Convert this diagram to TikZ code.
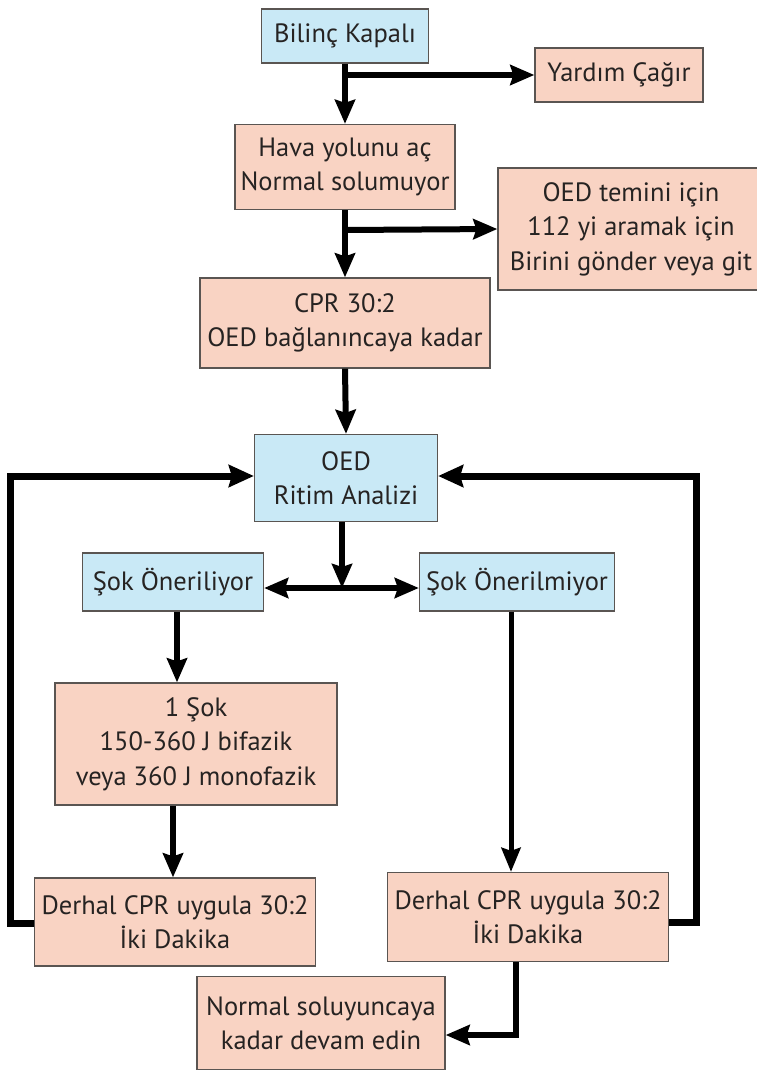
\documentclass[tikz,border=0pt]{standalone}
\usepackage{fontspec}
\setmainfont{PT Sans}
\usetikzlibrary{arrows.meta}
\definecolor{bluebox}{HTML}{C9E9F6}
\definecolor{pinkbox}{HTML}{F9D3C3}
\definecolor{edgegray}{HTML}{5A5552}
\definecolor{txt}{HTML}{262322}
\tikzset{
  box/.style={draw=edgegray, line width=1.3pt, align=center, inner sep=2pt,
    text=txt, font=\fontsize{26.5}{34.5}\selectfont},
  bbox/.style={box, fill=bluebox},
  pbox/.style={box, fill=pinkbox},
  conn/.style={line width=6pt, -{Stealth[length=24pt,width=20pt,inset=3pt]}},
  thinconn/.style={line width=5pt, -{Stealth[length=24pt,width=19pt,inset=3pt]}},
  loopconn/.style={line width=7pt, -{Stealth[length=25pt,width=22pt,inset=3pt]}},
  dblconn/.style={line width=6pt, {Stealth[length=24pt,width=20pt,inset=3pt]}-{Stealth[length=24pt,width=20pt,inset=3pt]}},
}
\begin{document}
\begin{tikzpicture}[x=1pt,y=-1pt]
\useasboundingbox[fill=white] (0,0) rectangle (757,1071);
% nodes
\node[bbox, minimum width=167pt, minimum height=54pt] (bil) at (345,36) {Bilinç Kapalı};
\node[pbox, minimum width=168pt, minimum height=54pt] (yar) at (619,75) {Yardım Çağır};
\node[pbox, minimum width=220pt, minimum height=85pt] (hava) at (345,167) {Hava yolunu aç\\Normal solumuyor};
\node[pbox, minimum width=266pt, minimum height=122pt] (oedt) at (631,229) {OED temini için\\112 yi aramak için\\Birini gönder veya git\hspace{8pt}};
\node[pbox, minimum width=290pt, minimum height=90pt] (cpr) at (345,323) {CPR 30:2\\OED bağlanıncaya kadar};
\node[bbox, minimum width=183pt, minimum height=87pt] (oed) at (346,478) {OED\\Ritim Analizi};
\node[bbox, minimum width=181pt, minimum height=58pt] (sy) at (173,582) {Şok Öneriliyor};
\node[bbox, minimum width=195pt, minimum height=58pt] (sn) at (517,582) {Şok Önerilmiyor};
\node[pbox, minimum width=282pt, minimum height=122pt] (sok) at (196,744) {1 Şok\\150-360 J bifazik\\veya 360 J monofazik};
\node[pbox, minimum width=281pt, minimum height=88pt] (d1) at (175,922) {Derhal CPR uygula 30:2\\İki Dakika};
\node[pbox, minimum width=281pt, minimum height=89pt] (d2) at (528,917) {Derhal CPR uygula 30:2\\İki Dakika};
\node[pbox, minimum width=248pt, minimum height=93pt] (norm) at (321,1023) {Normal soluyuncaya\\kadar devam edin};
% junction coordinates
\coordinate (j1) at (345,75);
\coordinate (j2) at (345,230);
\coordinate (j3) at (342,588);
\coordinate (lc1) at (10,923);
\coordinate (lc2) at (10,476);
\coordinate (rc1) at (696,922);
\coordinate (rc2) at (696,476);
\coordinate (nc) at (516,1035);
% connectors
\draw[conn] (bil.south) -- (hava.north);
\draw[conn] (j1) -- (yar.west);
\draw[conn] (hava.south) -- (cpr.north);
\draw[conn] (j2) -- (oedt.west);
\draw[conn] (cpr.south) -- (oed.north);
\draw[conn] (oed.south -| j3) -- (j3);
\draw[dblconn] (sy.east |- j3) -- (sn.west |- j3);
\draw[conn] (sy.south -| 177,0) -- (sok.north -| 177,0);
\draw[conn] (sok.south -| 173,0) -- (d1.north -| 173,0);
\draw[thinconn] (sn.south -| 511,0) -- (d2.north -| 511,0);
\draw[loopconn] (d1.west |- lc1) -- (lc1) -- (lc2) -- (oed.west |- lc2);
\draw[loopconn] (d2.east |- rc1) -- (rc1) -- (rc2) -- (oed.east |- rc2);
\draw[conn] (d2.south -| nc) -- (nc) -- (norm.east |- nc);
\end{tikzpicture}
\end{document}
